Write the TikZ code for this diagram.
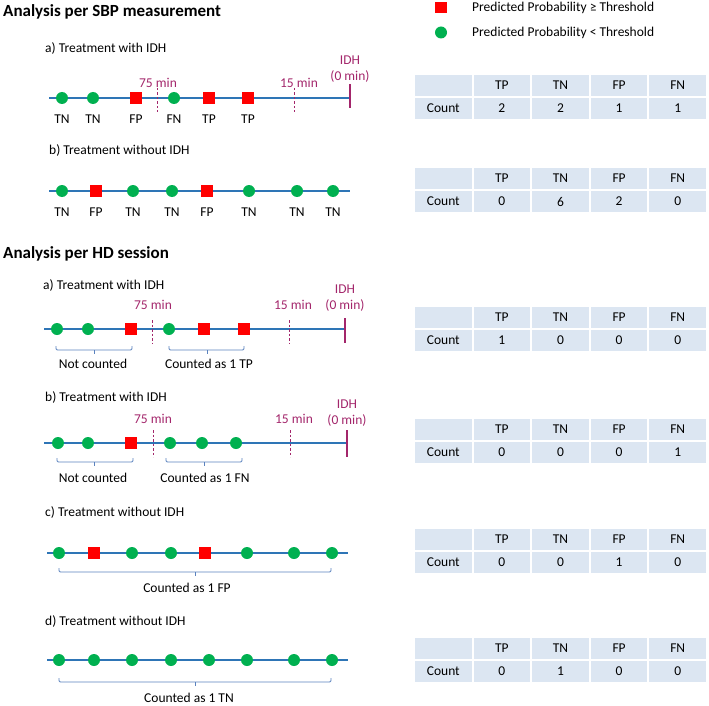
\documentclass[tikz,border=0pt]{standalone}
\usepackage{fontspec}
\setmainfont{Carlito}
\definecolor{tl}{HTML}{2E75B6}
\definecolor{gr}{HTML}{00B050}
\definecolor{rd}{HTML}{FF0000}
\definecolor{pu}{HTML}{A3266B}
\definecolor{cellbg}{HTML}{DCE6F2}
\definecolor{brc}{HTML}{5A82BE}
\newcommand\myfs{\fontsize{13.5}{16}\selectfont}
\newcommand\mytab[6]{%
  \foreach \c/\h/\v [count=\i from 0] in {0/{}/Count,1/TP/#3,2/TN/#4,3/FP/#5,4/FN/#6}{%
    \node[cell] (#1h\i) at (443.3+58.6*\c,#2+11.5) {\h};
    \node[cell] (#1r\i) at (443.3+58.6*\c,#2+34.5) {\v};
  }}
\begin{document}
\begin{tikzpicture}[x=1pt,y=-1pt,
  tline/.style={draw=tl,line width=1.8},
  m-g/.style={circle,fill=gr,inner sep=0,minimum size=12},
  m-r/.style={rectangle,fill=rd,inner sep=0,minimum size=11.5},
  lab/.style={font=\myfs,inner sep=0},
  plab/.style={lab,text=pu},
  dsh/.style={draw=pu,line width=0.9,dash pattern=on 2.5pt off 2pt},
  idhl/.style={draw=pu,line width=1.5},
  brcs/.style={draw=brc,line width=0.8,rounded corners=1.2},
  cell/.style={fill=cellbg,draw=white,line width=2,minimum width=58.6,minimum height=23,inner sep=0,font=\myfs},
  ttl/.style={anchor=west,inner sep=0,font=\bfseries\fontsize{17}{20}\selectfont},
  sub/.style={lab,anchor=west}]
\useasboundingbox (0,0) rectangle (709,706);

% titles and legend
\node[ttl] (t1) at (3,12) {Analysis per SBP measurement};
\node[ttl] (t2) at (3,254) {Analysis per HD session};
\node[m-r] (legr) at (441,7.5) {};
\node[sub] (legrt) at (472,7.5) {Predicted Probability ≥ Threshold};
\node[m-g] (legg) at (441,32.5) {};
\node[sub] (leggt) at (472,32.5) {Predicted Probability < Threshold};

% ---------- SBP a
\node[sub] (sat) at (45,48) {a) Treatment with IDH};
\coordinate (sa0) at (49,98); \coordinate (sa9) at (350,98);
\draw[tline] (sa0) -- (sa9);
\coordinate (sad1a) at (157,88); \coordinate (sad1b) at (157,112);
\coordinate (sad2a) at (294,88); \coordinate (sad2b) at (294,112);
\draw[dsh] (sad1a) -- (sad1b); \draw[dsh] (sad2a) -- (sad2b);
\coordinate (saia) at (350,84); \coordinate (saib) at (350,108);
\draw[idhl] (saia) -- (saib);
\node[plab] (sa75) at (158,83) {75 min};
\node[plab] (sa15) at (299,83) {15 min};
\node[plab,align=center] (saidh) at (350,69.5) {IDH\\(0 min)};
\foreach \x/\t/\l [count=\i] in {62/g/TN,93/g/TN,136/r/FP,174/g/FN,209/r/TP,248/r/TP}{
  \node[m-\t] (sam\i) at (\x,98) {};
  \node[lab] (sal\i) at (\x,119) {\l};}
\mytab{ta}{74}{2}{2}{1}{1}

% ---------- SBP b
\node[sub] (sbt) at (49,150) {b) Treatment without IDH};
\coordinate (sb0) at (49,191); \coordinate (sb9) at (350,191);
\draw[tline] (sb0) -- (sb9);
\foreach \x/\t/\l [count=\i] in {62/g/TN,96/r/FP,133/g/TN,172/g/TN,207/r/FP,249/g/TN,297/g/TN,333/g/TN}{
  \node[m-\t] (sbm\i) at (\x,191) {};
  \node[lab] (sbl\i) at (\x,212) {\l};}
\mytab{tb}{167}{0}{6}{2}{0}

% ---------- HD a
\node[sub] (hat) at (43,285) {a) Treatment with IDH};
\coordinate (ha0) at (44,329); \coordinate (ha9) at (345,329);
\draw[tline] (ha0) -- (ha9);
\coordinate (had1a) at (152,320); \coordinate (had1b) at (152,343);
\coordinate (had2a) at (289,320); \coordinate (had2b) at (289,343);
\draw[dsh] (had1a) -- (had1b); \draw[dsh] (had2a) -- (had2b);
\coordinate (haia) at (345,318); \coordinate (haib) at (345,343);
\draw[idhl] (haia) -- (haib);
\node[plab] (ha75) at (153,305) {75 min};
\node[plab] (ha15) at (293,305) {15 min};
\node[plab,align=center] (haidh) at (345,298) {IDH\\(0 min)};
\foreach \x/\t [count=\i] in {57/g,88/g,131/r,169/g,204/r,244/r}{
  \node[m-\t] (ham\i) at (\x,329) {};}
\draw[brcs] (56,346) -- (56,350) -- (132,350) -- (132,346);
\draw[brcs] (94,350) -- (94,354);
\draw[brcs] (169,346) -- (169,350) -- (244,350) -- (244,346);
\draw[brcs] (207,350) -- (207,354);
\node[lab] (hab1) at (93,364) {Not counted};
\node[lab] (hab2) at (209,364) {Counted as 1 TP};
\mytab{tc}{306}{1}{0}{0}{0}

% ---------- HD b
\node[sub] (hbt) at (45,397) {b) Treatment with IDH};
\coordinate (hb0) at (44,443); \coordinate (hb9) at (347,443);
\draw[tline] (hb0) -- (hb9);
\coordinate (hbd1a) at (153,430); \coordinate (hbd1b) at (153,457);
\coordinate (hbd2a) at (290,430); \coordinate (hbd2b) at (290,457);
\draw[dsh] (hbd1a) -- (hbd1b); \draw[dsh] (hbd2a) -- (hbd2b);
\coordinate (hbia) at (347,430); \coordinate (hbib) at (347,457);
\draw[idhl] (hbia) -- (hbib);
\node[plab] (hb75) at (153,419) {75 min};
\node[plab] (hb15) at (294,419) {15 min};
\node[plab,align=center] (hbidh) at (347,413) {IDH\\(0 min)};
\foreach \x/\t [count=\i] in {58/g,88/g,131/r,170/g,202/g,236/g}{
  \node[m-\t] (hbm\i) at (\x,443) {};}
\draw[brcs] (57,458) -- (57,462) -- (133,462) -- (133,458);
\draw[brcs] (94,462) -- (94,466);
\draw[brcs] (166,458) -- (166,462) -- (242,462) -- (242,458);
\draw[brcs] (204,462) -- (204,466);
\node[lab] (hbb1) at (93,478) {Not counted};
\node[lab] (hbb2) at (205,478) {Counted as 1 FN};
\mytab{td}{418}{0}{0}{0}{1}

% ---------- HD c
\node[sub] (hct) at (45,512) {c) Treatment without IDH};
\coordinate (hc0) at (47,553); \coordinate (hc9) at (348,553);
\draw[tline] (hc0) -- (hc9);
\foreach \x/\t [count=\i] in {59/g,94/r,132/g,171/g,205/r,247/g,294/g,332/g}{
  \node[m-\t] (hcm\i) at (\x,553) {};}
\draw[brcs] (59,568) -- (59,572) -- (331,572) -- (331,568);
\draw[brcs] (195,572) -- (195,576);
\node[lab] (hcb) at (187,588) {Counted as 1 FP};
\mytab{te}{528}{0}{0}{1}{0}

% ---------- HD d
\node[sub] (hdt) at (45,621) {d) Treatment without IDH};
\coordinate (hd0) at (47,660); \coordinate (hd9) at (348,660);
\draw[tline] (hd0) -- (hd9);
\foreach \x [count=\i] in {59,94,132,171,209,247,294,332}{
  \node[m-g] (hdm\i) at (\x,660) {};}
\draw[brcs] (59,678) -- (59,682) -- (331,682) -- (331,678);
\draw[brcs] (195,682) -- (195,686);
\node[lab] (hdb) at (189,697.5) {Counted as 1 TN};
\mytab{tf}{637}{0}{1}{0}{0}
\end{tikzpicture}
\end{document}
